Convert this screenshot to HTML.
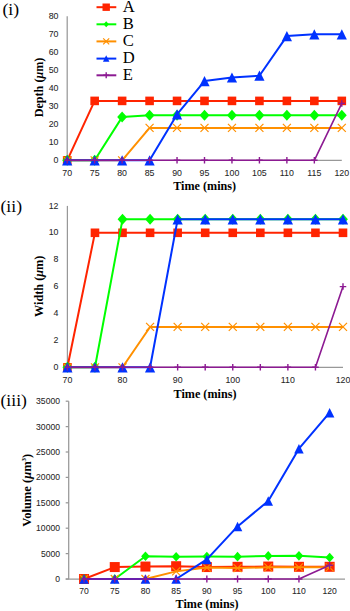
<!DOCTYPE html>
<html><head><meta charset="utf-8"><style>
html,body{margin:0;padding:0;background:#fff;width:350px;height:611px;overflow:hidden}
svg{display:block}
.tk{font-family:"Liberation Sans",sans-serif;font-size:8.8px;fill:#262626;stroke:#262626;stroke-width:0.06px}
.tk3{font-family:"Liberation Sans",sans-serif;font-size:8.6px;fill:#262626;stroke:#262626;stroke-width:0.06px}
.ti{font-family:"Liberation Serif",serif;font-size:13px;font-weight:bold;fill:#000}
.pn{font-family:"Liberation Serif",serif;font-size:17.6px;fill:#000}
.lg{font-family:"Liberation Serif",serif;font-size:16.6px;fill:#000}
</style></head><body>
<svg width="350" height="611" viewBox="0 0 350 611">
<line x1="67.2" y1="16.3" x2="67.2" y2="160.3" stroke="#989898" stroke-width="1.25"/>
<line x1="67.2" y1="160.3" x2="341.8" y2="160.3" stroke="#989898" stroke-width="1.25"/>
<text x="58.5" y="162.9" class="tk" text-anchor="end">0</text>
<text x="58.5" y="144.9" class="tk" text-anchor="end">10</text>
<text x="58.5" y="126.9" class="tk" text-anchor="end">20</text>
<text x="58.5" y="108.9" class="tk" text-anchor="end">30</text>
<text x="58.5" y="90.9" class="tk" text-anchor="end">40</text>
<text x="58.5" y="72.9" class="tk" text-anchor="end">50</text>
<text x="58.5" y="54.9" class="tk" text-anchor="end">60</text>
<text x="58.5" y="36.9" class="tk" text-anchor="end">70</text>
<text x="58.5" y="18.9" class="tk" text-anchor="end">80</text>
<text x="67.2" y="176" class="tk" text-anchor="middle">70</text>
<text x="94.66" y="176" class="tk" text-anchor="middle">75</text>
<text x="122.12" y="176" class="tk" text-anchor="middle">80</text>
<text x="149.58" y="176" class="tk" text-anchor="middle">85</text>
<text x="177.04" y="176" class="tk" text-anchor="middle">90</text>
<text x="204.5" y="176" class="tk" text-anchor="middle">95</text>
<text x="231.96" y="176" class="tk" text-anchor="middle">100</text>
<text x="259.42" y="176" class="tk" text-anchor="middle">105</text>
<text x="286.88" y="176" class="tk" text-anchor="middle">110</text>
<text x="314.34" y="176" class="tk" text-anchor="middle">115</text>
<text x="341.8" y="176" class="tk" text-anchor="middle">120</text>
<polyline points="67.2,160.3 94.66,100.9 122.12,100.9 149.58,100.9 177.04,100.9 204.5,100.9 231.96,100.9 259.42,100.9 286.88,100.9 314.34,100.9 341.8,100.9" fill="none" stroke="#FF2400" stroke-width="2" stroke-linejoin="round"/>
<rect x="62.9" y="156" width="8.6" height="8.6" fill="#FF2400"/>
<rect x="90.36" y="96.6" width="8.6" height="8.6" fill="#FF2400"/>
<rect x="117.82" y="96.6" width="8.6" height="8.6" fill="#FF2400"/>
<rect x="145.28" y="96.6" width="8.6" height="8.6" fill="#FF2400"/>
<rect x="172.74" y="96.6" width="8.6" height="8.6" fill="#FF2400"/>
<rect x="200.2" y="96.6" width="8.6" height="8.6" fill="#FF2400"/>
<rect x="227.66" y="96.6" width="8.6" height="8.6" fill="#FF2400"/>
<rect x="255.12" y="96.6" width="8.6" height="8.6" fill="#FF2400"/>
<rect x="282.58" y="96.6" width="8.6" height="8.6" fill="#FF2400"/>
<rect x="310.04" y="96.6" width="8.6" height="8.6" fill="#FF2400"/>
<rect x="337.5" y="96.6" width="8.6" height="8.6" fill="#FF2400"/>
<polyline points="67.2,160.3 94.66,160.3 122.12,117.1 149.58,115.3 177.04,115.3 204.5,115.3 231.96,115.3 259.42,115.3 286.88,115.3 314.34,115.3 341.8,115.3" fill="none" stroke="#00FF00" stroke-width="2" stroke-linejoin="round"/>
<path d="M67.2 154.8L72.15 160.3L67.2 165.8L62.25 160.3Z" fill="#00FF00"/>
<path d="M94.66 154.8L99.61 160.3L94.66 165.8L89.71 160.3Z" fill="#00FF00"/>
<path d="M122.12 111.6L127.07 117.1L122.12 122.6L117.17 117.1Z" fill="#00FF00"/>
<path d="M149.58 109.8L154.53 115.3L149.58 120.8L144.63 115.3Z" fill="#00FF00"/>
<path d="M177.04 109.8L181.99 115.3L177.04 120.8L172.09 115.3Z" fill="#00FF00"/>
<path d="M204.5 109.8L209.45 115.3L204.5 120.8L199.55 115.3Z" fill="#00FF00"/>
<path d="M231.96 109.8L236.91 115.3L231.96 120.8L227.01 115.3Z" fill="#00FF00"/>
<path d="M259.42 109.8L264.37 115.3L259.42 120.8L254.47 115.3Z" fill="#00FF00"/>
<path d="M286.88 109.8L291.83 115.3L286.88 120.8L281.93 115.3Z" fill="#00FF00"/>
<path d="M314.34 109.8L319.29 115.3L314.34 120.8L309.39 115.3Z" fill="#00FF00"/>
<path d="M341.8 109.8L346.75 115.3L341.8 120.8L336.85 115.3Z" fill="#00FF00"/>
<polyline points="67.2,160.3 94.66,160.3 122.12,160.3 149.58,127.9 177.04,127.9 204.5,127.9 231.96,127.9 259.42,127.9 286.88,127.9 314.34,127.9 341.8,127.9" fill="none" stroke="#FF9000" stroke-width="2" stroke-linejoin="round"/>
<path d="M63.2 156.3L71.2 164.3M71.2 156.3L63.2 164.3" stroke="#FF9000" stroke-width="1.2" fill="none"/>
<path d="M90.66 156.3L98.66 164.3M98.66 156.3L90.66 164.3" stroke="#FF9000" stroke-width="1.2" fill="none"/>
<path d="M118.12 156.3L126.12 164.3M126.12 156.3L118.12 164.3" stroke="#FF9000" stroke-width="1.2" fill="none"/>
<path d="M145.58 123.9L153.58 131.9M153.58 123.9L145.58 131.9" stroke="#FF9000" stroke-width="1.2" fill="none"/>
<path d="M173.04 123.9L181.04 131.9M181.04 123.9L173.04 131.9" stroke="#FF9000" stroke-width="1.2" fill="none"/>
<path d="M200.5 123.9L208.5 131.9M208.5 123.9L200.5 131.9" stroke="#FF9000" stroke-width="1.2" fill="none"/>
<path d="M227.96 123.9L235.96 131.9M235.96 123.9L227.96 131.9" stroke="#FF9000" stroke-width="1.2" fill="none"/>
<path d="M255.42 123.9L263.42 131.9M263.42 123.9L255.42 131.9" stroke="#FF9000" stroke-width="1.2" fill="none"/>
<path d="M282.88 123.9L290.88 131.9M290.88 123.9L282.88 131.9" stroke="#FF9000" stroke-width="1.2" fill="none"/>
<path d="M310.34 123.9L318.34 131.9M318.34 123.9L310.34 131.9" stroke="#FF9000" stroke-width="1.2" fill="none"/>
<path d="M337.8 123.9L345.8 131.9M345.8 123.9L337.8 131.9" stroke="#FF9000" stroke-width="1.2" fill="none"/>
<polyline points="67.2,160.3 94.66,160.3 122.12,160.3 149.58,160.3 177.04,114.4 204.5,81.1 231.96,77.5 259.42,75.7 286.88,36.1 314.34,34.3 341.8,34.3" fill="none" stroke="#0032FF" stroke-width="2" stroke-linejoin="round"/>
<path d="M67.2 155.2L72.3 165.4L62.1 165.4Z" fill="#0032FF"/>
<path d="M94.66 155.2L99.76 165.4L89.56 165.4Z" fill="#0032FF"/>
<path d="M122.12 155.2L127.22 165.4L117.02 165.4Z" fill="#0032FF"/>
<path d="M149.58 155.2L154.68 165.4L144.48 165.4Z" fill="#0032FF"/>
<path d="M177.04 109.3L182.14 119.5L171.94 119.5Z" fill="#0032FF"/>
<path d="M204.5 76L209.6 86.2L199.4 86.2Z" fill="#0032FF"/>
<path d="M231.96 72.4L237.06 82.6L226.86 82.6Z" fill="#0032FF"/>
<path d="M259.42 70.6L264.52 80.8L254.32 80.8Z" fill="#0032FF"/>
<path d="M286.88 31L291.98 41.2L281.78 41.2Z" fill="#0032FF"/>
<path d="M314.34 29.2L319.44 39.4L309.24 39.4Z" fill="#0032FF"/>
<path d="M341.8 29.2L346.9 39.4L336.7 39.4Z" fill="#0032FF"/>
<polyline points="67.2,160.3 94.66,160.3 122.12,160.3 149.58,160.3 177.04,160.3 204.5,160.3 231.96,160.3 259.42,160.3 286.88,160.3 314.34,160.3 341.8,103.42" fill="none" stroke="#8C1A92" stroke-width="1.6" stroke-linejoin="round"/>
<path d="M67.2 157.05L67.2 163.55M63.95 160.3L70.45 160.3" stroke="#8C1A92" stroke-width="1.4" fill="none"/>
<path d="M94.66 157.05L94.66 163.55M91.41 160.3L97.91 160.3" stroke="#8C1A92" stroke-width="1.4" fill="none"/>
<path d="M122.12 157.05L122.12 163.55M118.87 160.3L125.37 160.3" stroke="#8C1A92" stroke-width="1.4" fill="none"/>
<path d="M149.58 157.05L149.58 163.55M146.33 160.3L152.83 160.3" stroke="#8C1A92" stroke-width="1.4" fill="none"/>
<path d="M177.04 157.05L177.04 163.55M173.79 160.3L180.29 160.3" stroke="#8C1A92" stroke-width="1.4" fill="none"/>
<path d="M204.5 157.05L204.5 163.55M201.25 160.3L207.75 160.3" stroke="#8C1A92" stroke-width="1.4" fill="none"/>
<path d="M231.96 157.05L231.96 163.55M228.71 160.3L235.21 160.3" stroke="#8C1A92" stroke-width="1.4" fill="none"/>
<path d="M259.42 157.05L259.42 163.55M256.17 160.3L262.67 160.3" stroke="#8C1A92" stroke-width="1.4" fill="none"/>
<path d="M286.88 157.05L286.88 163.55M283.63 160.3L290.13 160.3" stroke="#8C1A92" stroke-width="1.4" fill="none"/>
<path d="M314.34 157.05L314.34 163.55M311.09 160.3L317.59 160.3" stroke="#8C1A92" stroke-width="1.4" fill="none"/>
<path d="M341.8 100.17L341.8 106.67M338.55 103.42L345.05 103.42" stroke="#8C1A92" stroke-width="1.4" fill="none"/>
<text transform="translate(204.6,190) scale(0.935,1)" class="ti" text-anchor="middle">Time (mins)</text>
<text transform="translate(43.3,87.5) rotate(-90) scale(0.935,1)" class="ti" text-anchor="middle">Depth (<tspan font-style="italic">μ</tspan>m)</text>
<text x="2.5" y="14.5" class="pn">(i)</text>
<line x1="96.5" y1="7.2" x2="116.3" y2="7.2" stroke="#FF2400" stroke-width="2"/>
<rect x="102.5" y="3.5" width="7.4" height="7.4" fill="#FF2400"/>
<text x="122.8" y="11.8" class="lg">A</text>
<line x1="96.5" y1="24.3" x2="116.3" y2="24.3" stroke="#00FF00" stroke-width="2"/>
<path d="M106.2 21.3L108.9 24.3L106.2 27.3L103.5 24.3Z" fill="#00FF00"/>
<text x="122.8" y="28.9" class="lg">B</text>
<line x1="96.5" y1="41.4" x2="116.3" y2="41.4" stroke="#FF9000" stroke-width="2"/>
<path d="M103.2 38.4L109.2 44.4M109.2 38.4L103.2 44.4" stroke="#FF9000" stroke-width="1.2" fill="none"/>
<text x="122.8" y="46" class="lg">C</text>
<line x1="96.5" y1="58.6" x2="116.3" y2="58.6" stroke="#0032FF" stroke-width="2"/>
<path d="M106.2 55.35L109.45 61.85L102.95 61.85Z" fill="#0032FF"/>
<text x="122.8" y="63.2" class="lg">D</text>
<line x1="96.5" y1="75.3" x2="116.3" y2="75.3" stroke="#8C1A92" stroke-width="2"/>
<path d="M106.2 72.3L106.2 78.3M103.2 75.3L109.2 75.3" stroke="#8C1A92" stroke-width="1.4" fill="none"/>
<text x="122.8" y="79.9" class="lg">E</text>
<line x1="67.4" y1="205.9" x2="67.4" y2="367.3" stroke="#989898" stroke-width="1.25"/>
<line x1="67.4" y1="367.3" x2="343" y2="367.3" stroke="#989898" stroke-width="1.25"/>
<text x="58.5" y="369.9" class="tk" text-anchor="end">0</text>
<text x="58.5" y="343" class="tk" text-anchor="end">2</text>
<text x="58.5" y="316.1" class="tk" text-anchor="end">4</text>
<text x="58.5" y="289.2" class="tk" text-anchor="end">6</text>
<text x="58.5" y="262.3" class="tk" text-anchor="end">8</text>
<text x="58.5" y="235.4" class="tk" text-anchor="end">10</text>
<text x="58.5" y="208.5" class="tk" text-anchor="end">12</text>
<text x="67.4" y="383" class="tk" text-anchor="middle">70</text>
<text x="122.52" y="383" class="tk" text-anchor="middle">80</text>
<text x="177.64" y="383" class="tk" text-anchor="middle">90</text>
<text x="232.76" y="383" class="tk" text-anchor="middle">100</text>
<text x="287.88" y="383" class="tk" text-anchor="middle">110</text>
<text x="343" y="383" class="tk" text-anchor="middle">120</text>
<polyline points="67.4,367.3 94.96,232.8 122.52,232.8 150.08,232.8 177.64,232.8 205.2,232.8 232.76,232.8 260.32,232.8 287.88,232.8 315.44,232.8 343,232.8" fill="none" stroke="#FF2400" stroke-width="2" stroke-linejoin="round"/>
<rect x="63.1" y="363" width="8.6" height="8.6" fill="#FF2400"/>
<rect x="90.66" y="228.5" width="8.6" height="8.6" fill="#FF2400"/>
<rect x="118.22" y="228.5" width="8.6" height="8.6" fill="#FF2400"/>
<rect x="145.78" y="228.5" width="8.6" height="8.6" fill="#FF2400"/>
<rect x="173.34" y="228.5" width="8.6" height="8.6" fill="#FF2400"/>
<rect x="200.9" y="228.5" width="8.6" height="8.6" fill="#FF2400"/>
<rect x="228.46" y="228.5" width="8.6" height="8.6" fill="#FF2400"/>
<rect x="256.02" y="228.5" width="8.6" height="8.6" fill="#FF2400"/>
<rect x="283.58" y="228.5" width="8.6" height="8.6" fill="#FF2400"/>
<rect x="311.14" y="228.5" width="8.6" height="8.6" fill="#FF2400"/>
<rect x="338.7" y="228.5" width="8.6" height="8.6" fill="#FF2400"/>
<polyline points="67.4,367.3 94.96,367.3 122.52,219.35 150.08,219.35 177.64,219.35 205.2,219.35 232.76,219.35 260.32,219.35 287.88,219.35 315.44,219.35 343,219.35" fill="none" stroke="#00FF00" stroke-width="2" stroke-linejoin="round"/>
<path d="M67.4 361.8L72.35 367.3L67.4 372.8L62.45 367.3Z" fill="#00FF00"/>
<path d="M94.96 361.8L99.91 367.3L94.96 372.8L90.01 367.3Z" fill="#00FF00"/>
<path d="M122.52 213.85L127.47 219.35L122.52 224.85L117.57 219.35Z" fill="#00FF00"/>
<path d="M150.08 213.85L155.03 219.35L150.08 224.85L145.13 219.35Z" fill="#00FF00"/>
<path d="M177.64 213.85L182.59 219.35L177.64 224.85L172.69 219.35Z" fill="#00FF00"/>
<path d="M205.2 213.85L210.15 219.35L205.2 224.85L200.25 219.35Z" fill="#00FF00"/>
<path d="M232.76 213.85L237.71 219.35L232.76 224.85L227.81 219.35Z" fill="#00FF00"/>
<path d="M260.32 213.85L265.27 219.35L260.32 224.85L255.37 219.35Z" fill="#00FF00"/>
<path d="M287.88 213.85L292.83 219.35L287.88 224.85L282.93 219.35Z" fill="#00FF00"/>
<path d="M315.44 213.85L320.39 219.35L315.44 224.85L310.49 219.35Z" fill="#00FF00"/>
<path d="M343 213.85L347.95 219.35L343 224.85L338.05 219.35Z" fill="#00FF00"/>
<polyline points="67.4,367.3 94.96,367.3 122.52,367.3 150.08,326.95 177.64,326.95 205.2,326.95 232.76,326.95 260.32,326.95 287.88,326.95 315.44,326.95 343,326.95" fill="none" stroke="#FF9000" stroke-width="2" stroke-linejoin="round"/>
<path d="M63.4 363.3L71.4 371.3M71.4 363.3L63.4 371.3" stroke="#FF9000" stroke-width="1.2" fill="none"/>
<path d="M90.96 363.3L98.96 371.3M98.96 363.3L90.96 371.3" stroke="#FF9000" stroke-width="1.2" fill="none"/>
<path d="M118.52 363.3L126.52 371.3M126.52 363.3L118.52 371.3" stroke="#FF9000" stroke-width="1.2" fill="none"/>
<path d="M146.08 322.95L154.08 330.95M154.08 322.95L146.08 330.95" stroke="#FF9000" stroke-width="1.2" fill="none"/>
<path d="M173.64 322.95L181.64 330.95M181.64 322.95L173.64 330.95" stroke="#FF9000" stroke-width="1.2" fill="none"/>
<path d="M201.2 322.95L209.2 330.95M209.2 322.95L201.2 330.95" stroke="#FF9000" stroke-width="1.2" fill="none"/>
<path d="M228.76 322.95L236.76 330.95M236.76 322.95L228.76 330.95" stroke="#FF9000" stroke-width="1.2" fill="none"/>
<path d="M256.32 322.95L264.32 330.95M264.32 322.95L256.32 330.95" stroke="#FF9000" stroke-width="1.2" fill="none"/>
<path d="M283.88 322.95L291.88 330.95M291.88 322.95L283.88 330.95" stroke="#FF9000" stroke-width="1.2" fill="none"/>
<path d="M311.44 322.95L319.44 330.95M319.44 322.95L311.44 330.95" stroke="#FF9000" stroke-width="1.2" fill="none"/>
<path d="M339 322.95L347 330.95M347 322.95L339 330.95" stroke="#FF9000" stroke-width="1.2" fill="none"/>
<polyline points="67.4,367.3 94.96,367.3 122.52,367.3 150.08,367.3 177.64,219.35 205.2,219.35 232.76,219.35 260.32,219.35 287.88,219.35 315.44,219.35 343,219.35" fill="none" stroke="#0032FF" stroke-width="2" stroke-linejoin="round"/>
<path d="M67.4 362.2L72.5 372.4L62.3 372.4Z" fill="#0032FF"/>
<path d="M94.96 362.2L100.06 372.4L89.86 372.4Z" fill="#0032FF"/>
<path d="M122.52 362.2L127.62 372.4L117.42 372.4Z" fill="#0032FF"/>
<path d="M150.08 362.2L155.18 372.4L144.98 372.4Z" fill="#0032FF"/>
<path d="M177.64 214.25L182.74 224.45L172.54 224.45Z" fill="#0032FF"/>
<path d="M205.2 214.25L210.3 224.45L200.1 224.45Z" fill="#0032FF"/>
<path d="M232.76 214.25L237.86 224.45L227.66 224.45Z" fill="#0032FF"/>
<path d="M260.32 214.25L265.42 224.45L255.22 224.45Z" fill="#0032FF"/>
<path d="M287.88 214.25L292.98 224.45L282.78 224.45Z" fill="#0032FF"/>
<path d="M315.44 214.25L320.54 224.45L310.34 224.45Z" fill="#0032FF"/>
<path d="M343 214.25L348.1 224.45L337.9 224.45Z" fill="#0032FF"/>
<polyline points="67.4,367.3 94.96,367.3 122.52,367.3 150.08,367.3 177.64,367.3 205.2,367.3 232.76,367.3 260.32,367.3 287.88,367.3 315.44,367.3 343,286.6" fill="none" stroke="#8C1A92" stroke-width="1.6" stroke-linejoin="round"/>
<path d="M67.4 364.05L67.4 370.55M64.15 367.3L70.65 367.3" stroke="#8C1A92" stroke-width="1.4" fill="none"/>
<path d="M94.96 364.05L94.96 370.55M91.71 367.3L98.21 367.3" stroke="#8C1A92" stroke-width="1.4" fill="none"/>
<path d="M122.52 364.05L122.52 370.55M119.27 367.3L125.77 367.3" stroke="#8C1A92" stroke-width="1.4" fill="none"/>
<path d="M150.08 364.05L150.08 370.55M146.83 367.3L153.33 367.3" stroke="#8C1A92" stroke-width="1.4" fill="none"/>
<path d="M177.64 364.05L177.64 370.55M174.39 367.3L180.89 367.3" stroke="#8C1A92" stroke-width="1.4" fill="none"/>
<path d="M205.2 364.05L205.2 370.55M201.95 367.3L208.45 367.3" stroke="#8C1A92" stroke-width="1.4" fill="none"/>
<path d="M232.76 364.05L232.76 370.55M229.51 367.3L236.01 367.3" stroke="#8C1A92" stroke-width="1.4" fill="none"/>
<path d="M260.32 364.05L260.32 370.55M257.07 367.3L263.57 367.3" stroke="#8C1A92" stroke-width="1.4" fill="none"/>
<path d="M287.88 364.05L287.88 370.55M284.63 367.3L291.13 367.3" stroke="#8C1A92" stroke-width="1.4" fill="none"/>
<path d="M315.44 364.05L315.44 370.55M312.19 367.3L318.69 367.3" stroke="#8C1A92" stroke-width="1.4" fill="none"/>
<path d="M343 283.35L343 289.85M339.75 286.6L346.25 286.6" stroke="#8C1A92" stroke-width="1.4" fill="none"/>
<text transform="translate(205,398) scale(0.935,1)" class="ti" text-anchor="middle">Time (mins)</text>
<text transform="translate(42.8,286.3) rotate(-90) scale(0.94,1)" class="ti" text-anchor="middle">Width (<tspan font-style="italic">μ</tspan>m)</text>
<text x="0.5" y="211.8" class="pn">(ii)</text>
<line x1="68.7" y1="401.2" x2="68.7" y2="579" stroke="#989898" stroke-width="1.25"/>
<line x1="65.7" y1="579" x2="345" y2="579" stroke="#989898" stroke-width="1.25"/>
<line x1="65.7" y1="579" x2="68.7" y2="579" stroke="#989898" stroke-width="1.25"/>
<text x="60" y="582" class="tk3" text-anchor="end">0</text>
<line x1="65.7" y1="553.6" x2="68.7" y2="553.6" stroke="#989898" stroke-width="1.25"/>
<text x="60" y="556.6" class="tk3" text-anchor="end">5000</text>
<line x1="65.7" y1="528.2" x2="68.7" y2="528.2" stroke="#989898" stroke-width="1.25"/>
<text x="60" y="531.2" class="tk3" text-anchor="end">10000</text>
<line x1="65.7" y1="502.8" x2="68.7" y2="502.8" stroke="#989898" stroke-width="1.25"/>
<text x="60" y="505.8" class="tk3" text-anchor="end">15000</text>
<line x1="65.7" y1="477.4" x2="68.7" y2="477.4" stroke="#989898" stroke-width="1.25"/>
<text x="60" y="480.4" class="tk3" text-anchor="end">20000</text>
<line x1="65.7" y1="452" x2="68.7" y2="452" stroke="#989898" stroke-width="1.25"/>
<text x="60" y="455" class="tk3" text-anchor="end">25000</text>
<line x1="65.7" y1="426.6" x2="68.7" y2="426.6" stroke="#989898" stroke-width="1.25"/>
<text x="60" y="429.6" class="tk3" text-anchor="end">30000</text>
<line x1="65.7" y1="401.2" x2="68.7" y2="401.2" stroke="#989898" stroke-width="1.25"/>
<text x="60" y="404.2" class="tk3" text-anchor="end">35000</text>
<text x="84.05" y="594" class="tk3" text-anchor="middle">70</text>
<text x="114.75" y="594" class="tk3" text-anchor="middle">75</text>
<text x="145.45" y="594" class="tk3" text-anchor="middle">80</text>
<text x="176.15" y="594" class="tk3" text-anchor="middle">85</text>
<text x="206.85" y="594" class="tk3" text-anchor="middle">90</text>
<text x="237.55" y="594" class="tk3" text-anchor="middle">95</text>
<text x="268.25" y="594" class="tk3" text-anchor="middle">100</text>
<text x="298.95" y="594" class="tk3" text-anchor="middle">110</text>
<text x="329.65" y="594" class="tk3" text-anchor="middle">120</text>
<polyline points="84.05,579 114.75,567.06 145.45,566.55 176.15,566.2 206.85,567.06 237.55,566.81 268.25,566.55 298.95,566.81 329.65,566.81" fill="none" stroke="#FF2400" stroke-width="2" stroke-linejoin="round"/>
<rect x="79.05" y="574" width="10" height="10" fill="#FF2400"/>
<rect x="109.75" y="562.06" width="10" height="10" fill="#FF2400"/>
<rect x="140.45" y="561.55" width="10" height="10" fill="#FF2400"/>
<rect x="171.15" y="561.2" width="10" height="10" fill="#FF2400"/>
<rect x="201.85" y="562.06" width="10" height="10" fill="#FF2400"/>
<rect x="232.55" y="561.81" width="10" height="10" fill="#FF2400"/>
<rect x="263.25" y="561.55" width="10" height="10" fill="#FF2400"/>
<rect x="293.95" y="561.81" width="10" height="10" fill="#FF2400"/>
<rect x="324.65" y="561.81" width="10" height="10" fill="#FF2400"/>
<polyline points="84.05,579 114.75,579 145.45,556.29 176.15,556.8 206.85,556.5 237.55,556.65 268.25,555.89 298.95,555.84 329.65,557.56" fill="none" stroke="#00FF00" stroke-width="2" stroke-linejoin="round"/>
<path d="M84.05 574.2L88.37 579L84.05 583.8L79.73 579Z" fill="#00FF00"/>
<path d="M114.75 574.2L119.07 579L114.75 583.8L110.43 579Z" fill="#00FF00"/>
<path d="M145.45 551.49L149.77 556.29L145.45 561.09L141.13 556.29Z" fill="#00FF00"/>
<path d="M176.15 552L180.47 556.8L176.15 561.6L171.83 556.8Z" fill="#00FF00"/>
<path d="M206.85 551.7L211.17 556.5L206.85 561.3L202.53 556.5Z" fill="#00FF00"/>
<path d="M237.55 551.85L241.87 556.65L237.55 561.45L233.23 556.65Z" fill="#00FF00"/>
<path d="M268.25 551.09L272.57 555.89L268.25 560.69L263.93 555.89Z" fill="#00FF00"/>
<path d="M298.95 551.04L303.27 555.84L298.95 560.64L294.63 555.84Z" fill="#00FF00"/>
<path d="M329.65 552.76L333.97 557.56L329.65 562.36L325.33 557.56Z" fill="#00FF00"/>
<polyline points="84.05,579 114.75,579 145.45,579 176.15,571.38 206.85,567.57 237.55,568.08 268.25,567.32 298.95,567.32 329.65,567.32" fill="none" stroke="#FF9000" stroke-width="2" stroke-linejoin="round"/>
<path d="M80.05 575L88.05 583M88.05 575L80.05 583" stroke="#FF9000" stroke-width="1.2" fill="none"/>
<path d="M110.75 575L118.75 583M118.75 575L110.75 583" stroke="#FF9000" stroke-width="1.2" fill="none"/>
<path d="M141.45 575L149.45 583M149.45 575L141.45 583" stroke="#FF9000" stroke-width="1.2" fill="none"/>
<path d="M172.15 567.38L180.15 575.38M180.15 567.38L172.15 575.38" stroke="#FF9000" stroke-width="1.2" fill="none"/>
<path d="M202.85 563.57L210.85 571.57M210.85 563.57L202.85 571.57" stroke="#FF9000" stroke-width="1.2" fill="none"/>
<path d="M233.55 564.08L241.55 572.08M241.55 564.08L233.55 572.08" stroke="#FF9000" stroke-width="1.2" fill="none"/>
<path d="M264.25 563.32L272.25 571.32M272.25 563.32L264.25 571.32" stroke="#FF9000" stroke-width="1.2" fill="none"/>
<path d="M294.95 563.32L302.95 571.32M302.95 563.32L294.95 571.32" stroke="#FF9000" stroke-width="1.2" fill="none"/>
<path d="M325.65 563.32L333.65 571.32M333.65 563.32L325.65 571.32" stroke="#FF9000" stroke-width="1.2" fill="none"/>
<polyline points="84.05,579 114.75,579 145.45,579 176.15,579 206.85,559.44 237.55,526.42 268.25,501.02 298.95,448.7 329.65,412.63" fill="none" stroke="#0032FF" stroke-width="2" stroke-linejoin="round"/>
<path d="M84.05 574.25L88.8 583.75L79.3 583.75Z" fill="#0032FF"/>
<path d="M114.75 574.25L119.5 583.75L110 583.75Z" fill="#0032FF"/>
<path d="M145.45 574.25L150.2 583.75L140.7 583.75Z" fill="#0032FF"/>
<path d="M176.15 574.25L180.9 583.75L171.4 583.75Z" fill="#0032FF"/>
<path d="M206.85 554.69L211.6 564.19L202.1 564.19Z" fill="#0032FF"/>
<path d="M237.55 521.67L242.3 531.17L232.8 531.17Z" fill="#0032FF"/>
<path d="M268.25 496.27L273 505.77L263.5 505.77Z" fill="#0032FF"/>
<path d="M298.95 443.95L303.7 453.45L294.2 453.45Z" fill="#0032FF"/>
<path d="M329.65 407.88L334.4 417.38L324.9 417.38Z" fill="#0032FF"/>
<polyline points="84.05,579 114.75,579 145.45,579 176.15,579 206.85,579 237.55,579 268.25,579 298.95,579 329.65,565.28" fill="none" stroke="#8C1A92" stroke-width="1.6" stroke-linejoin="round"/>
<path d="M84.05 575.5L84.05 582.5M80.55 579L87.55 579" stroke="#8C1A92" stroke-width="1.4" fill="none"/>
<path d="M114.75 575.5L114.75 582.5M111.25 579L118.25 579" stroke="#8C1A92" stroke-width="1.4" fill="none"/>
<path d="M145.45 575.5L145.45 582.5M141.95 579L148.95 579" stroke="#8C1A92" stroke-width="1.4" fill="none"/>
<path d="M176.15 575.5L176.15 582.5M172.65 579L179.65 579" stroke="#8C1A92" stroke-width="1.4" fill="none"/>
<path d="M206.85 575.5L206.85 582.5M203.35 579L210.35 579" stroke="#8C1A92" stroke-width="1.4" fill="none"/>
<path d="M237.55 575.5L237.55 582.5M234.05 579L241.05 579" stroke="#8C1A92" stroke-width="1.4" fill="none"/>
<path d="M268.25 575.5L268.25 582.5M264.75 579L271.75 579" stroke="#8C1A92" stroke-width="1.4" fill="none"/>
<path d="M298.95 575.5L298.95 582.5M295.45 579L302.45 579" stroke="#8C1A92" stroke-width="1.4" fill="none"/>
<path d="M329.65 561.78L329.65 568.78M326.15 565.28L333.15 565.28" stroke="#8C1A92" stroke-width="1.4" fill="none"/>
<text transform="translate(207,608.3) scale(0.935,1)" class="ti" text-anchor="middle">Time (mins)</text>
<text transform="translate(30.6,490.3) rotate(-90) scale(0.965,1)" class="ti" text-anchor="middle">Volume (<tspan font-style="italic">μ</tspan>m<tspan font-size="7" dy="-4.8">3</tspan><tspan dy="4.8">)</tspan></text>
<text x="0.5" y="406" class="pn">(iii)</text>
</svg>
</body></html>
